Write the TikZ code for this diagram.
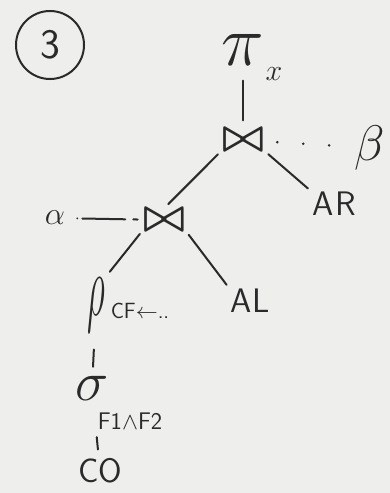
\RequirePackage{fix-cm}
\documentclass[tikz,border=0pt]{standalone}
\begin{document}
\begin{tikzpicture}[x=1pt,y=-1pt,
  ink/.style={draw=inkc,line width=2pt,line cap=round},
  lbl/.style={text=inkc,inner sep=1pt},
  big/.style={font=\fontsize{#1}{#1}\selectfont},
  jn/.style={font=\fontsize{44}{44}\selectfont\boldmath},
  sfbig/.style={font=\sffamily\fontsize{#1}{#1}\selectfont},
  dots/.style={draw=inkc,line width=2.8pt,line cap=round,dash pattern=on 0pt off 26pt},
]
\definecolor{inkc}{HTML}{2A2A2A}
\definecolor{paper}{HTML}{EEEEEC}
\fill[paper] (0,0) rectangle (390,493);
\useasboundingbox (0,0) rectangle (390,493);

% nodes
\node[circle,draw=inkc,line width=2pt,minimum size=68pt,lbl,font=\sffamily\fontsize{42}{42}\selectfont] (three) at (50,45) {3};
\node[lbl,big=72] (pi) at (243,50) {$\pi$};
\node[lbl,big=30] (pisub) at (274,74) {$x$};
\node[lbl,jn] (j1) at (243,140) {$\bowtie$};
\node[lbl,big=50] (beta) at (370,148) {$\beta$};
\node[lbl,sfbig=34] (ar) at (334,204) {A\kern2pt R};
\node[lbl,big=32] (alpha) at (55,218) {$\alpha$};
\node[lbl,jn] (j2) at (164,220) {$\bowtie$};
\node[lbl] (rho) at (96,305) {\scalebox{0.7}[1.75]{\fontsize{50}{50}\selectfont$\rho$}};
\node[lbl,sfbig=22] (rhosub) at (140,311) {CF$\leftarrow$..};
\node[lbl,sfbig=34] (al) at (250,301) {A\kern1pt L};
\node[lbl,big=56] (sigma) at (92,388) {$\sigma$};
\node[lbl,sfbig=24] (sigsub) at (130,421) {F1$\wedge$F2};
\node[lbl,sfbig=34] (co) at (100,471) {CO};

% connectors
\draw[ink,shorten <=14pt,shorten >=8pt] (pi) -- (j1);
\draw[dots,shorten <=12pt,shorten >=22pt] (j1) -- (beta);
\draw[ink,shorten <=4pt,shorten >=6pt] (j1.south west) -- (j2.north);
\draw[ink,shorten <=4pt,shorten >=4pt] (j1.south east) -- (ar.north west);
\draw[ink,dash pattern=on 0pt off 5pt on 43pt off 8pt on 0pt,line width=2pt,shorten <=11pt,shorten >=4pt] (alpha) -- (j2);
\draw[ink,shorten <=3pt,shorten >=6pt] (j2.south west) -- (rho.north east);
\draw[ink,shorten <=4pt,shorten >=4pt] (j2.south east) -- (al.north west);
\draw[ink,shorten <=16pt,shorten >=8pt] (rho) -- (sigma);
\draw[ink,shorten <=36pt,shorten >=8pt] (sigma) -- (co);
\end{tikzpicture}
\end{document}
